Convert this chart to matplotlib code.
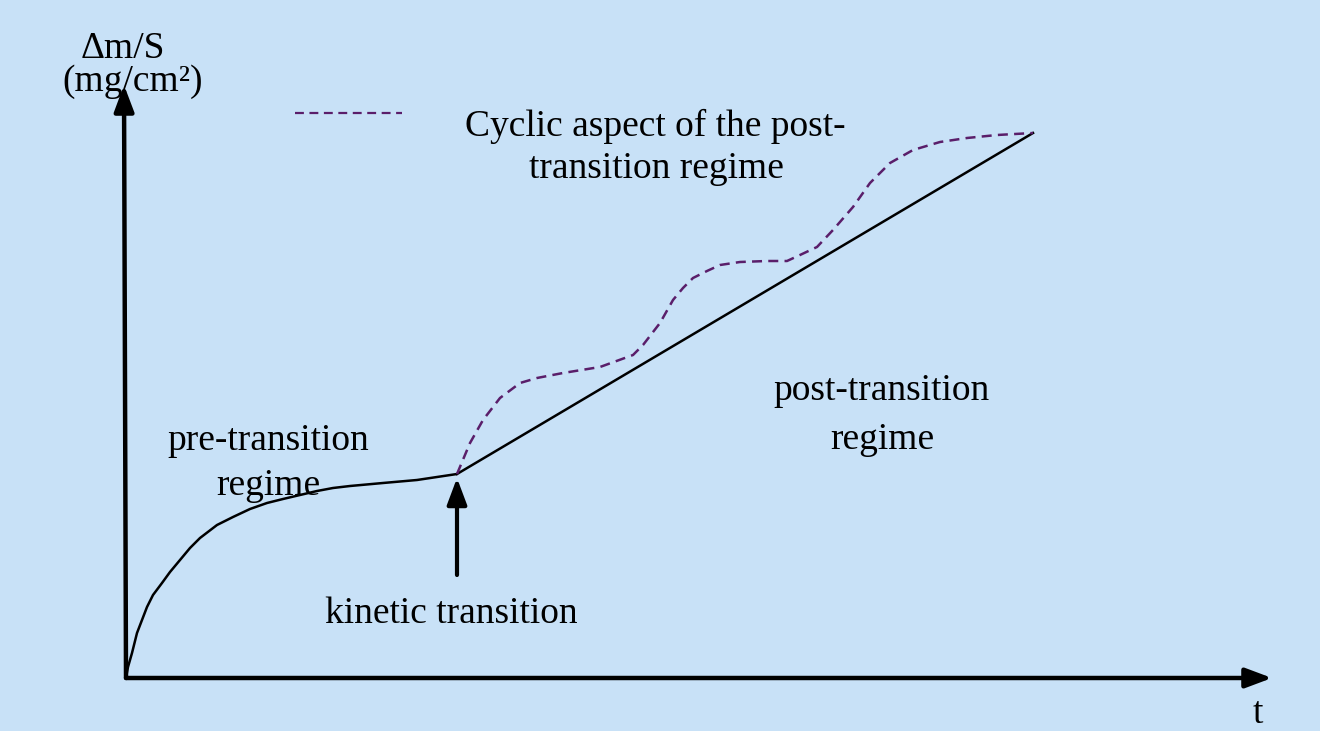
import matplotlib
matplotlib.use("Agg")
import matplotlib.pyplot as plt

# Schematic data (arbitrary units): time t and mass gain dm/S
t_pre = [0, 0.02, 0.06, 0.11, 0.16, 0.21, 0.27, 0.36, 0.44, 0.54, 0.64, 0.74, 0.91, 1.07,
         1.24, 1.41, 1.57, 1.74, 1.91, 2.07, 2.24, 2.57, 2.91, 3.31]
m_pre = [0, 0.11, 0.25, 0.45, 0.58, 0.71, 0.83, 0.95, 1.06, 1.18, 1.30, 1.40, 1.53, 1.61,
         1.69, 1.75, 1.79, 1.83, 1.87, 1.90, 1.92, 1.95, 1.98, 2.04]

t_post = [3.31, 9.07]
m_post = [2.04, 5.45]

t_cyc = [3.31, 3.44, 3.57, 3.74, 3.94, 4.11, 4.37, 4.74, 5.07, 5.17, 5.34, 5.47, 5.57, 5.67,
         5.81, 5.94, 6.14, 6.41, 6.61, 6.74, 6.91, 7.07, 7.27, 7.44, 7.64, 7.87, 8.14, 8.41,
         8.71, 9.07]
m_cyc = [2.04, 2.35, 2.58, 2.80, 2.95, 3.00, 3.05, 3.11, 3.23, 3.33, 3.55, 3.78, 3.90, 4.00,
         4.07, 4.13, 4.16, 4.17, 4.17, 4.23, 4.31, 4.48, 4.71, 4.95, 5.15, 5.28, 5.36, 5.40,
         5.43, 5.45]

BG = "#C8E1F7"
DASH = "#5A1E6A"
FONT = "Liberation Serif"
FS = 27

fig = plt.figure(figsize=(13.2, 7.31), dpi=100, facecolor=BG)
ax = fig.add_axes([0, 0, 1, 1])
ax.set_facecolor(BG)
ax.set_xlim(-1.26, 11.94)
ax.set_ylim(-0.53, 6.78)
ax.axis("off")

arrow = "-|>,head_length=1.6,head_width=0.6"
# axes arrows
ax.annotate("", xy=(11.46, 0), xytext=(0, 0),
            arrowprops=dict(arrowstyle=arrow, lw=3.2, color="black", shrinkA=0, shrinkB=0))
ax.annotate("", xy=(-0.02, 5.93), xytext=(0, 0),
            arrowprops=dict(arrowstyle=arrow, lw=3.2, color="black", shrinkA=0, shrinkB=0))

# curves
ax.plot(t_pre, m_pre, color="black", lw=1.8, solid_capstyle="round", solid_joinstyle="round")
ax.plot(t_post, m_post, color="black", lw=1.8)
ax.plot(t_cyc, m_cyc, color=DASH, lw=1.8, dashes=(4, 2.5))

# legend sample
ax.plot([1.69, 2.76], [5.65, 5.65], color=DASH, lw=1.6, dashes=(4, 2.5))

# kinetic transition arrow
ax.annotate("", xy=(3.31, 2.00), xytext=(3.31, 1.03),
            arrowprops=dict(arrowstyle=arrow, lw=3.0, color="black", shrinkA=0, shrinkB=0))

kw = dict(fontfamily=FONT, fontsize=FS, color="black")
ax.text(-0.03, 6.29, "Δm/S", ha="center", va="center", **kw)
ax.text(0.07, 5.96, "(mg/cm²)", ha="center", va="center", **kw)
ax.text(3.39, 5.52, "Cyclic aspect of the post-", ha="left", va="center", **kw)
ax.text(5.30, 5.09, "transition regime", ha="center", va="center", **kw)
ax.text(1.42, 2.37, "pre-transition", ha="center", va="center", **kw)
ax.text(1.42, 1.92, "regime", ha="center", va="center", **kw)
ax.text(7.56, 2.87, "post-transition", ha="center", va="center", **kw)
ax.text(7.56, 2.38, "regime", ha="center", va="center", **kw)
ax.text(3.25, 0.64, "kinetic transition", ha="center", va="center", **kw)
ax.text(11.32, -0.36, "t", ha="center", va="center", **kw)

fig.savefig("out.png", dpi=100, facecolor=BG)
